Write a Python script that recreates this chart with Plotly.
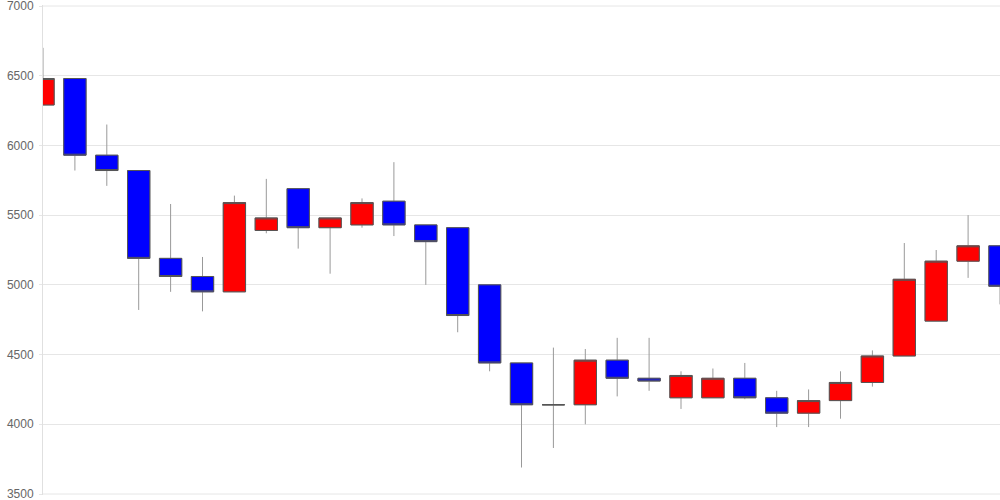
import plotly.graph_objects as go

idx = list(range(31))
open_ = [6290, 6480, 5930, 5820, 5190, 5060, 4950, 5390, 5690, 5410, 5430, 5600, 5430, 5410, 5000, 4440,
         4140, 4140, 4460, 4330, 4190, 4190, 4330, 4190, 4080, 4170, 4300, 4490, 4740, 5170, 5280]
close = [6480, 5930, 5820, 5190, 5060, 4950, 5590, 5480, 5410, 5480, 5590, 5430, 5310, 4780, 4440, 4140,
         4140, 4460, 4330, 4310, 4350, 4330, 4190, 4080, 4170, 4300, 4490, 5040, 5170, 5280, 4990]
high = [6700, 6480, 6150, 5820, 5580, 5200, 5640, 5760, 5690, 5480, 5620, 5880, 5430, 5410, 5000, 4440,
        4550, 4540, 4620, 4620, 4380, 4400, 4440, 4240, 4250, 4380, 4530, 5300, 5250, 5500, 5280]
low = [6290, 5820, 5710, 4820, 4950, 4810, 4950, 5370, 5260, 5080, 5410, 5350, 5000, 4660, 4380, 3690,
       3830, 4000, 4200, 4240, 4110, 4190, 4180, 3980, 3980, 4040, 4270, 4490, 4740, 5050, 4860]

y_ticks = [3500, 4000, 4500, 5000, 5500, 6000, 6500, 7000]

body_hi = [max(o, c) for o, c in zip(open_, close)]
body_lo = [min(o, c) for o, c in zip(open_, close)]

fig = go.Figure()
# wicks (light gray)
fig.add_trace(go.Candlestick(
    x=idx, open=open_, close=close, high=high, low=low,
    increasing=dict(fillcolor="#ff0000", line=dict(color="#999999", width=1)),
    decreasing=dict(fillcolor="#0000ff", line=dict(color="#999999", width=1)),
    whiskerwidth=0, showlegend=False, hoverinfo="skip",
))
# bodies with darker outline
fig.add_trace(go.Candlestick(
    x=idx, open=open_, close=close, high=body_hi, low=body_lo,
    increasing=dict(fillcolor="#ff0000", line=dict(color="#555555", width=1)),
    decreasing=dict(fillcolor="#0000ff", line=dict(color="#555555", width=1)),
    whiskerwidth=0, showlegend=False,
))

# grid lines at the range ends (plotly drops them at the plot edges)
for v in (y_ticks[0], y_ticks[-1]):
    fig.add_hline(y=v, line=dict(color="#e6e6e6", width=1), layer="below")

fig.update_layout(
    width=1000, height=500,
    margin=dict(l=43, r=0, t=5, b=5, autoexpand=False),
    paper_bgcolor="white", plot_bgcolor="white",
    showlegend=False,
    boxgap=0.3, boxgroupgap=0,
    font=dict(family="Liberation Sans, Arial, sans-serif", size=12, color="#666666"),
    xaxis=dict(range=[0, 30], showgrid=False, showticklabels=False, zeroline=False,
               rangeslider=dict(visible=False), showline=False, ticks="", automargin=False),
    yaxis=dict(range=[3492.8, 7007.2], tickvals=y_ticks, ticktext=[str(v) for v in y_ticks],
               showgrid=True, gridcolor="#e6e6e6", gridwidth=1, zeroline=False,
               showline=True, linecolor="#e0e0e0", linewidth=1,
               ticks="outside", ticklen=3, tickcolor="#e6e6e6", ticklabelstandoff=3,
               automargin=False, ticklabeloverflow="allow",
               tickfont=dict(size=12, color="#666666")),
)

fig.write_html("out.html", config={"displayModeBar": False},
               post_script="document.body.style.margin='0';")
